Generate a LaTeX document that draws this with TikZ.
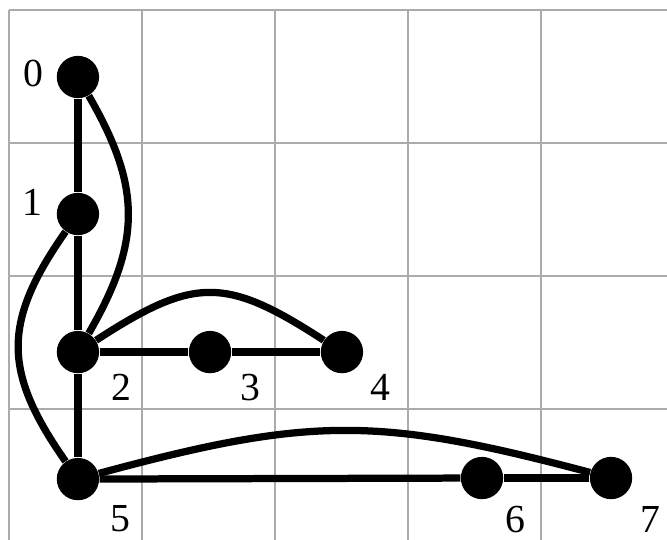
\documentclass[tikz,border=0pt]{standalone}
\usepackage{fontspec}
\setmainfont{Liberation Serif}

\begin{document}
\begin{tikzpicture}[x=2cm, y=2cm,
    vertex/.style={circle, fill=black, inner sep=0pt, minimum size=0.636cm},
    edge/.style={line width=3.1pt},
    gridline/.style={black!33, line width=0.85pt},
    num/.style={font=\fontsize{17}{20}\selectfont, inner sep=0pt}]

  \useasboundingbox (0,0) rectangle (5.015,4.053);
  \clip (0,0) rectangle (5.015,4.053);

  \def\gx{0.064}
  \def\gy{3.981}

  \foreach \x in {0,1,2,3,4} {
    \draw[gridline] (\gx+\x, \gy) -- (\gx+\x, -0.2);
  }
  \foreach \y in {0,1,2,3} {
    \draw[gridline] (\gx, \gy-\y) -- (5.2, \gy-\y);
  }

  \node[vertex] (v0) at (0.586, 3.474) {};
  \node[vertex] (v1) at (0.586, 2.444) {};
  \node[vertex] (v2) at (0.586, 1.406) {};
  \node[vertex] (v3) at (1.579, 1.406) {};
  \node[vertex] (v4) at (2.571, 1.406) {};
  \node[vertex] (v5) at (0.586, 0.451) {};
  \node[vertex] (v6) at (3.624, 0.459) {};
  \node[vertex] (v7) at (4.594, 0.459) {};

  \draw[edge] (v0) -- (v1);
  \draw[edge] (v1) -- (v2);
  \draw[edge] (v2) -- (v5);
  \draw[edge] (v2) -- (v3);
  \draw[edge] (v3) -- (v4);
  \draw[edge] (v5) -- (v6);
  \draw[edge] (v6) -- (v7);
  \draw[edge] (v0) to[bend left=30, looseness=1.14] (v2);
  \draw[edge] (v1) to[bend right=35, looseness=1.23] (v5);
  \draw[edge] (v2) to[bend left=33, looseness=1.32] (v4);
  \draw[edge] (v5) to[bend left=15, looseness=1.14] (v7);

  \node[num] (l0) at (0.248, 3.504) {0};
  \node[num] (l1) at (0.241, 2.534) {1};
  \node[num] (l2) at (0.910, 1.140) {2};
  \node[num] (l3) at (1.880, 1.140) {3};
  \node[num] (l4) at (2.857, 1.140) {4};
  \node[num] (l5) at (0.902, 0.150) {5};
  \node[num] (l6) at (3.872, 0.150) {6};
  \node[num] (l7) at (4.887, 0.150) {7};

\end{tikzpicture}
\end{document}
